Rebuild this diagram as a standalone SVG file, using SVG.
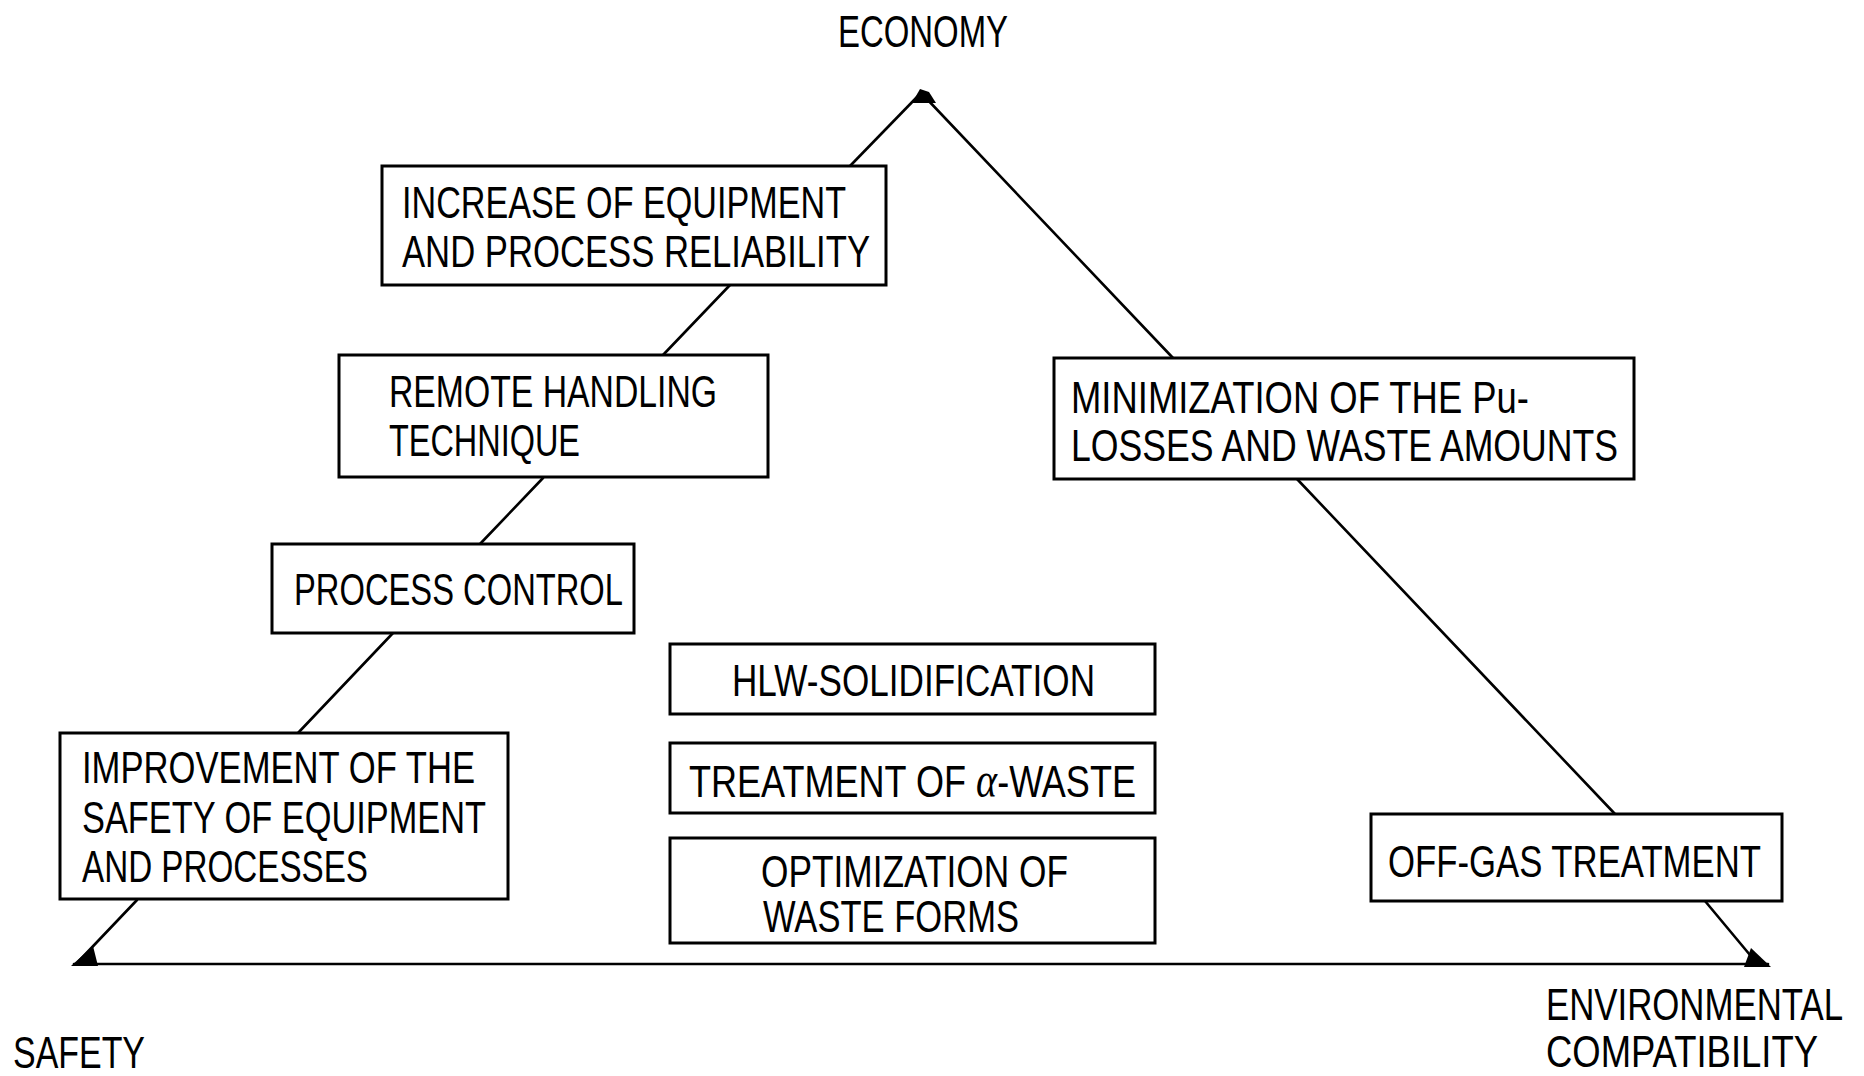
<svg xmlns="http://www.w3.org/2000/svg" width="1864" height="1076" viewBox="0 0 1864 1076">
<style>
.box{fill:#fff;stroke:#000;stroke-width:3}
.ln{fill:none;stroke:#000;stroke-width:2.6;stroke-linecap:round}
.t{font-family:"Liberation Sans","DejaVu Sans",sans-serif;font-size:45px;fill:#000}
.g{font-family:"Liberation Serif","DejaVu Serif",serif;font-style:italic;font-size:50px}
.mk{fill:#000}
</style>
<rect width="1864" height="1076" fill="#fff"/>
<g id="connectors">
<path class="ln" d="M918 96 L850 166"/>
<path class="ln" d="M730 285 L663 355"/>
<path class="ln" d="M543 478 L480 544"/>
<path class="ln" d="M393 633 L298 733"/>
<path class="ln" d="M137 900 L78 962"/>
<path class="ln" d="M925 97 L1173 358"/>
<path class="ln" d="M1297 479 L1615 814"/>
<path class="ln" d="M1705 901 L1750 955"/>
<path class="ln" d="M74 964 L1768 964"/>
<polygon class="mk" points="912,103 920,89 929,92 936,103"/>
<polygon class="mk" points="71,966 98,966 93,946"/>
<polygon class="mk" points="1744,967 1771,967 1751,948"/>
</g>
<g id="economy"><text class="t" x="838" y="47" textLength="170" lengthAdjust="spacingAndGlyphs">ECONOMY</text></g>
<g id="safety"><text class="t" x="13" y="1068" textLength="132" lengthAdjust="spacingAndGlyphs">SAFETY</text></g>
<g id="environmental">
<text class="t" x="1546" y="1020" textLength="297" lengthAdjust="spacingAndGlyphs">ENVIRONMENTAL</text>
<text class="t" x="1546" y="1067" textLength="272" lengthAdjust="spacingAndGlyphs">COMPATIBILITY</text>
</g>
<g id="increase">
<rect class="box" x="382" y="166" width="504" height="119"/>
<text class="t" x="402" y="218" textLength="444" lengthAdjust="spacingAndGlyphs">INCREASE OF EQUIPMENT</text>
<text class="t" x="402" y="267" textLength="468" lengthAdjust="spacingAndGlyphs">AND PROCESS RELIABILITY</text>
</g>
<g id="remote">
<rect class="box" x="339" y="355" width="429" height="122"/>
<text class="t" x="389" y="407" textLength="328" lengthAdjust="spacingAndGlyphs">REMOTE HANDLING</text>
<text class="t" x="389" y="456" textLength="191" lengthAdjust="spacingAndGlyphs">TECHNIQUE</text>
</g>
<g id="process-control">
<rect class="box" x="272" y="544" width="362" height="89"/>
<text class="t" x="294" y="605" textLength="329" lengthAdjust="spacingAndGlyphs">PROCESS CONTROL</text>
</g>
<g id="improvement">
<rect class="box" x="60" y="733" width="448" height="166"/>
<text class="t" x="82" y="783" textLength="393" lengthAdjust="spacingAndGlyphs">IMPROVEMENT OF THE</text>
<text class="t" x="82" y="833" textLength="404" lengthAdjust="spacingAndGlyphs">SAFETY OF EQUIPMENT</text>
<text class="t" x="82" y="882" textLength="286" lengthAdjust="spacingAndGlyphs">AND PROCESSES</text>
</g>
<g id="hlw">
<rect class="box" x="670" y="644" width="485" height="70"/>
<text class="t" x="732" y="696" textLength="363" lengthAdjust="spacingAndGlyphs">HLW-SOLIDIFICATION</text>
</g>
<g id="alpha-waste">
<rect class="box" x="670" y="743" width="485" height="70"/>
<text class="t" x="689" y="797" textLength="447" lengthAdjust="spacingAndGlyphs">TREATMENT OF <tspan class="g">α</tspan>-WASTE</text>
</g>
<g id="optimization">
<rect class="box" x="670" y="838" width="485" height="105"/>
<text class="t" x="761" y="887" textLength="307" lengthAdjust="spacingAndGlyphs">OPTIMIZATION OF</text>
<text class="t" x="763" y="932" textLength="256" lengthAdjust="spacingAndGlyphs">WASTE FORMS</text>
</g>
<g id="minimization">
<rect class="box" x="1054" y="358" width="580" height="121"/>
<text class="t" x="1071" y="413" textLength="458" lengthAdjust="spacingAndGlyphs">MINIMIZATION OF THE Pu-</text>
<text class="t" x="1071" y="461" textLength="547" lengthAdjust="spacingAndGlyphs">LOSSES AND WASTE AMOUNTS</text>
</g>
<g id="off-gas">
<rect class="box" x="1371" y="814" width="411" height="87"/>
<text class="t" x="1388" y="877" textLength="373" lengthAdjust="spacingAndGlyphs">OFF-GAS TREATMENT</text>
</g>
</svg>
